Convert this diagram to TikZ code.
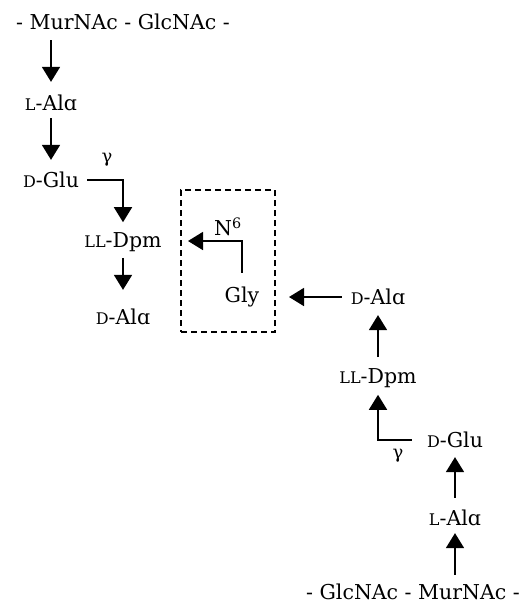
\documentclass[tikz,border=0pt]{standalone}
\usepackage{fontspec}
\setmainfont{DejaVu Serif}
\usetikzlibrary{arrows.meta}
\newcommand{\smc}[1]{{\fontsize{16}{16}\selectfont #1}}
\begin{document}
\begin{tikzpicture}[x=1pt,y=-1pt,
  lbl/.style={inner sep=0pt, font=\fontsize{20.5}{22}\selectfont},
  glbl/.style={inner sep=0pt, font=\fontsize{18}{20}\selectfont},
  arr/.style={line width=1.7pt, -{Triangle[length=15pt,width=18pt]}},
  boxd/.style={draw, line width=1.4pt, dash pattern=on 6pt off 4pt, minimum width=94pt, minimum height=142pt, inner sep=0pt}]
\useasboundingbox (0,0) rectangle (529,605);
% left strand
\node[lbl] (top) at (123,22) {- MurNAc - GlcNAc -};
\node[lbl] (la1) at (51,103) {\smc{L}-Al\symbol{"0251}};
\node[lbl] (dg1) at (51,180) {\smc{D}-Glu};
\node[glbl] (g1) at (107,160) {γ};
\node[lbl] (dp1) at (123,242) {\smc{LL}-Dpm};
\node[lbl] (da1) at (123,317) {\smc{D}-Al\symbol{"0251}};
% bridge
\node[boxd] (box) at (228,261) {};
\node[lbl] (gly) at (242,297) {Gly};
\node[lbl] (n6) at (228,227) {N\textsuperscript{6}};
\coordinate (n6tip) at (188,241);
\coordinate (glytip) at (289,297);
% right strand
\node[lbl] (da2) at (378,297) {\smc{D}-Al\symbol{"0251}};
\node[lbl] (dp2) at (378,378) {\smc{LL}-Dpm};
\node[lbl] (dg2) at (455,440) {\smc{D}-Glu};
\node[glbl] (g2) at (398,456) {γ};
\node[lbl] (la2) at (455,518) {\smc{L}-Al\symbol{"0251}};
\node[lbl] (bot) at (413,592) {- GlcNAc - MurNAc -};
% connectors
\draw[arr, shorten <=10pt, shorten >=13pt] (la1 |- top.south) -- (la1.north);
\draw[arr, shorten <=7pt, shorten >=12pt] (la1.south) -- (dg1.north);
\draw[arr, shorten <=8pt, shorten >=10pt] (dg1.east) -| (dp1.north);
\draw[arr, shorten <=6pt, shorten >=19pt] (dp1.south) -- (da1.north);
\draw[arr, shorten <=14pt] (gly.north) |- (n6tip);
\draw[arr, shorten <=9pt] (da2.west) -- (glytip);
\draw[arr, shorten <=11pt, shorten >=10pt] (dp2.north) -- (da2.south);
\draw[arr, shorten <=15pt, shorten >=7pt] (dg2.west) -| (dp2.south);
\draw[arr, shorten <=12pt, shorten >=9pt] (la2.north) -- (dg2.south);
\draw[arr, shorten <=9pt, shorten >=7pt] (la2 |- bot.north) -- (la2.south);
\end{tikzpicture}
\end{document}
